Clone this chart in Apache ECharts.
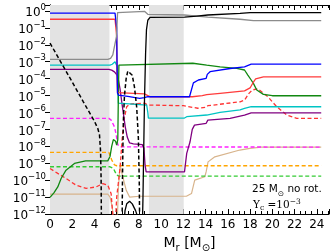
<!DOCTYPE html>
<html><head><meta charset="utf-8">
<script src="https://cdn.jsdelivr.net/npm/echarts@6/dist/echarts.min.js"></script>
<style>html,body{margin:0;padding:0;background:#fff}#c{width:334px;height:251px}</style>
</head><body><div id="c"></div>
<script>
// Mass coordinate M_r [Msun]; abundances stored as log10(mass fraction)
const xTickValues = [0,2,4,6,8,10,12,14,16,18,20,22,24];
const yTickExponents = [-12,-11,-10,-9,-8,-7,-6,-5,-4,-3,-2,-1,0];
const convectiveZones = [[0,5.35],[8.9,12.03]];

const H1 = [[6.6,-13],[6.75,-11.8],[6.9,-11.4],[7.16,-11.25],[7.4,-11.4],[7.7,-11.8],[7.95,-12.3],[8.06,-13],[8.3,-13],[8.36,-11.2],[8.5,-5.3],[8.6,-2.5],[8.68,-1.1],[8.8,-0.55],[9.0,-0.38],[12.1,-0.37],[13.2,-0.3],[14.2,-0.24],[17.1,-0.14],[18.0,-0.1],[24.4,-0.1]];
const He4 = [[0,-2.86],[5.2,-2.86],[5.45,-2.8],[5.65,-2.6],[5.8,-2.1],[5.98,-1.5],[6.03,-0.8],[6.08,-0.1],[6.2,-0.02],[8.5,-0.02],[8.65,-0.08],[8.8,-0.2],[8.95,-0.24],[12.1,-0.24],[13.2,-0.3],[14.2,-0.37],[17.1,-0.49],[18.3,-0.57],[24.4,-0.57]];
const C12 = [[0,-0.49],[5.85,-0.49],[5.95,-0.55],[6.0,-1.5],[6.03,-4.0],[6.08,-4.83],[8.5,-4.9],[8.8,-5.0],[9.0,-5.07],[12.8,-5.07],[13.7,-5.0],[14.1,-4.95],[15.3,-4.87],[17.5,-4.72],[18.0,-4.55],[18.3,-4.2],[18.5,-4.02],[19.2,-3.9],[24.4,-3.89]];
const O16 = [[0,-0.13],[5.85,-0.13],[5.95,-0.2],[6.0,-1.0],[6.03,-3],[6.07,-4.85],[6.15,-4.97],[7.0,-5.05],[8.06,-5.17],[8.5,-5.12],[8.8,-5.07],[12.55,-5.07],[12.9,-4.25],[13.0,-4.18],[13.35,-4.08],[14.05,-3.98],[14.15,-3.75],[14.4,-3.59],[16.2,-3.4],[17.5,-3.3],[18.1,-3.14],[24.4,-3.14]];
const N14 = [[0,-11.02],[0.35,-10.75],[0.7,-10.4],[1.0,-9.9],[1.44,-9.41],[2.2,-9.01],[3.2,-8.86],[5.2,-8.86],[5.4,-8.6],[5.55,-8.0],[5.7,-7.6],[5.8,-7.53],[5.9,-7.7],[6.0,-7.93],[6.1,-7.6],[6.15,-5],[6.2,-3.2],[6.3,-3.09],[12.85,-3.09],[14.1,-3.2],[15.3,-3.3],[16.8,-3.39],[17.5,-3.49],[17.8,-3.79],[18.1,-4.08],[18.3,-4.28],[18.6,-4.67],[19.2,-4.93],[20.0,-5.01],[24.4,-5.01]];
const Ne20 = [[0,-3.2],[5.4,-3.2],[5.6,-3.15],[5.85,-3.0],[6.0,-2.98],[6.05,-3.3],[6.1,-4.5],[6.15,-5.45],[6.25,-5.56],[8.7,-5.56],[8.8,-6.0],[8.85,-6.33],[12.1,-6.33],[12.3,-6.25],[14.1,-6.15],[15.3,-6.0],[17.1,-5.85],[17.5,-5.76],[18.1,-5.66],[24.4,-5.66]];
const Mg24 = [[0,-3.45],[5.3,-3.45],[5.55,-3.5],[5.8,-3.6],[5.95,-3.7],[6.05,-3.8],[6.12,-3.95],[6.3,-4.6],[6.5,-5.6],[6.77,-6.85],[6.95,-7.45],[7.16,-7.8],[7.5,-7.85],[8.3,-7.9],[8.45,-8.1],[8.55,-9.1],[8.65,-9.51],[12.1,-9.51],[12.3,-8.42],[12.6,-7.73],[12.8,-7.0],[13.0,-6.75],[14.05,-6.64],[14.2,-6.45],[16.2,-6.35],[17.5,-6.15],[18.1,-6.02],[24.4,-6.02]];
const tanSpecies = [[0,-10.83],[5.2,-10.83],[5.4,-11.0],[5.6,-11.6],[5.75,-12.5],[5.95,-13],[6.05,-12.5],[6.15,-10.5],[6.3,-9.1],[6.35,-9.0],[6.55,-9.8],[6.86,-10.6],[7.16,-11.0],[8.06,-10.95],[12.27,-10.95],[12.73,-10.79],[13.02,-10.0],[13.93,-9.8],[14.05,-9.5],[14.22,-8.92],[14.83,-8.62],[17.08,-8.22],[17.98,-8.12],[19,-8.05],[24.4,-8.05]];
const blackDashed = [[0,-1.9],[1,-3.05],[2,-4.2],[3,-5.37],[4,-6.52],[4.3,-6.95],[4.45,-7.3],[4.55,-8.3],[4.6,-10],[4.63,-13],[6.48,-13],[6.52,-10],[6.56,-8],[6.6,-6.5],[6.7,-5.0],[6.85,-4.0],[7.0,-3.55],[7.15,-3.5],[7.4,-3.8],[7.6,-4.5],[7.8,-5.7],[7.95,-7.5],[8.03,-10],[8.07,-13]];
const magentaDashed = [[0,-6.35],[5.3,-6.35],[5.5,-6.45],[5.8,-6.85],[5.95,-7.3],[6.1,-7.9],[6.3,-8.03],[24.4,-8.05]];
const orangeDashed = [[0,-8.36],[5.3,-8.36],[5.55,-8.8],[5.8,-9.1],[6.0,-9.15],[24.4,-9.15]];
const greenDashed = [[0,-9.21],[5.4,-9.21],[5.7,-9.3],[6.0,-9.7],[6.2,-9.76],[24.4,-9.76]];
const redDashed = [[0,-9.31],[0.7,-9.6],[1.44,-9.9],[2.35,-10.3],[3.25,-10.49],[4.15,-10.4],[4.75,-10.2],[5.2,-10.3],[5.5,-10.8],[5.7,-12.5],[5.85,-13],[6.0,-11],[6.3,-9.3],[6.5,-7.5],[6.7,-6.3],[6.9,-5.66],[7.2,-5.5],[8.5,-5.45],[8.8,-5.56],[12.0,-5.6],[13.3,-5.75],[14.0,-5.7],[14.2,-5.6],[17.1,-5.37],[17.5,-5.27],[17.9,-4.87],[18.2,-4.67],[18.7,-4.6],[19.6,-5.07],[20.4,-5.66],[21.3,-6.15],[22.2,-6.35],[24.4,-6.35]];

const styles = [
  {d: tanSpecies, c: '#d8b48c', dash: false, w: 1.2},
  {d: greenDashed, c: '#33cc33', dash: true, w: 1.4},
  {d: orangeDashed, c: '#ffa500', dash: true, w: 1.4},
  {d: magentaDashed, c: '#ff22ff', dash: true, w: 1.4},
  {d: redDashed, c: '#ff3333', dash: true, w: 1.3},
  {d: Mg24, c: '#800080', dash: false, w: 1.3},
  {d: Ne20, c: '#00c4c4', dash: false, w: 1.3},
  {d: N14, c: '#118811', dash: false, w: 1.3},
  {d: C12, c: '#ff3b3b', dash: false, w: 1.3},
  {d: O16, c: '#0000ff', dash: false, w: 1.3},
  {d: He4, c: '#8c8c8c', dash: false, w: 1.3},
  {d: H1, c: '#000000', dash: false, w: 1.3},
  {d: blackDashed, c: '#000000', dash: true, w: 1.5}
];

const toAbund = arr => arr.map(p => [p[0], Math.pow(10, p[1])]);

const series = [{
  type: 'line', data: [], z: 1, silent: true,
  markArea: {silent: true, itemStyle: {color: '#e3e3e3'},
    data: convectiveZones.map(z => [{xAxis: z[0]}, {xAxis: z[1]}])}
}].concat(styles.map(s => ({
  type: 'line', data: toAbund(s.d), showSymbol: false, symbol: 'none', z: 3,
  lineStyle: {color: s.c, width: s.w, type: s.dash ? [4, 2.5] : 'solid'},
  clip: true, animation: false
})));

const yLabel = v => {
  const e = Math.log10(v);
  const r = Math.round(e);
  if (Math.abs(e - r) > 0.01 || yTickExponents.indexOf(r) < 0) return '';
  return '{b|10}{s|' + (r < 0 ? '\u2212' + (-r) : r) + '}';
};
const xLabel = v => xTickValues.indexOf(v) >= 0 ? String(v) : '';

const axisCommon = {
  axisLine: {lineStyle: {color: '#000', width: 1}},
  splitLine: {show: false}
};

const chart = echarts.init(document.getElementById('c'), null, {renderer: 'canvas'});
chart.setOption({
  animation: false,
  backgroundColor: '#fff',
  grid: {left: 50, right: 5, top: 5, bottom: 37, containLabel: false, outerBoundsMode: 'none'},
  xAxis: [
    Object.assign({type: 'value', min: 0, max: 25.1, interval: 2, position: 'bottom',
      axisTick: {inside: true, length: 5, lineStyle: {color: '#000'}},
      minorTick: {show: true, splitNumber: 4, length: 3, lineStyle: {color: '#000'}},
      axisLabel: {formatter: xLabel, fontFamily: 'DejaVu Sans', fontSize: 12, color: '#000', margin: 5, showMaxLabel: false},
      name: '{a|M}{sub|r}{a| [M}{sub|\u2299}{a|]}', nameLocation: 'middle', nameGap: 19,
      nameTextStyle: {rich: {
        a: {fontFamily: 'DejaVu Sans', fontSize: 14, color: '#000', lineHeight: 18, verticalAlign: 'top'},
        sub: {fontFamily: 'DejaVu Sans', fontSize: 10, color: '#000', lineHeight: 10, verticalAlign: 'bottom'}
      }}
    }, axisCommon),
    Object.assign({type: 'value', min: 0, max: 25.1, interval: 2, position: 'top',
      axisTick: {inside: true, length: 5, lineStyle: {color: '#000'}},
      minorTick: {show: true, splitNumber: 4, length: 3, lineStyle: {color: '#000'}},
      axisLabel: {show: false}
    }, axisCommon)
  ],
  yAxis: [
    Object.assign({type: 'log', logBase: 10, min: 1e-12, max: 2.25, interval: 1, splitNumber: 12, position: 'left',
      axisTick: {inside: true, length: 5, lineStyle: {color: '#000'}},
      axisLabel: {formatter: yLabel, margin: 4, rich: {
        b: {fontFamily: 'DejaVu Sans', fontSize: 12, color: '#000', lineHeight: 16, verticalAlign: 'bottom'},
        s: {fontFamily: 'DejaVu Sans', fontSize: 8.5, color: '#000', lineHeight: 10, verticalAlign: 'top'}
      }},
      name: 'Abund. Profile [mass frac.]', nameLocation: 'middle', nameGap: 40, nameRotate: 90,
      nameTextStyle: {fontFamily: 'DejaVu Sans', fontSize: 13, color: '#000'}
    }, axisCommon),
    Object.assign({type: 'log', logBase: 10, min: 1e-12, max: 2.25, interval: 1, splitNumber: 12, position: 'right',
      axisTick: {inside: true, length: 5, lineStyle: {color: '#000'}},
      axisLabel: {show: false}
    }, axisCommon)
  ],
  graphic: [
    {type: 'text', left: 252, top: 184, z: 10, style: {
      text: '{a|25 M}{s|\u2299}{a| no rot.}',
      rich: {
        a: {fontFamily: 'DejaVu Sans', fontSize: 10.5, fill: '#000', lineHeight: 14, verticalAlign: 'top'},
        s: {fontFamily: 'DejaVu Sans', fontSize: 7.5, fill: '#000', lineHeight: 9, verticalAlign: 'bottom'}
      }}},
    {type: 'text', left: 253, top: 198, z: 10, style: {
      text: '{a|Y}{s|c}{a| =10}{p|\u22123}',
      rich: {
        a: {fontFamily: 'DejaVu Serif', fontSize: 10.5, fill: '#000', lineHeight: 14, verticalAlign: 'middle'},
        s: {fontFamily: 'DejaVu Serif', fontSize: 7.5, fill: '#000', lineHeight: 8, verticalAlign: 'bottom'},
        p: {fontFamily: 'DejaVu Serif', fontSize: 7.5, fill: '#000', lineHeight: 8, verticalAlign: 'top'}
      }}}
  ],
  series: series
});
</script>
</body></html>
